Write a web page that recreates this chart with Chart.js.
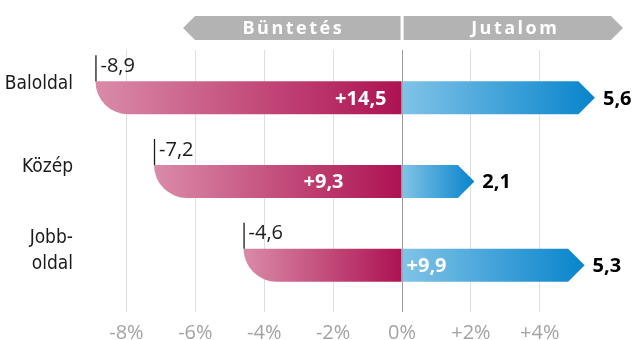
<!DOCTYPE html>
<html lang="hu">
<head>
<meta charset="utf-8">
<title>Büntetés és jutalom</title>
<script src="https://cdn.jsdelivr.net/npm/chart.js@4.4.1/dist/chart.umd.min.js"></script>
<style>
  html, body { margin: 0; padding: 0; background: #fff; }
  #wrap { width: 643px; height: 340px; position: relative; }
</style>
</head>
<body>
<div id="wrap"><canvas id="chart"></canvas></div>
<script>
// Categories and values (%)
const categories = ['Baloldal', 'Közép', ['Jobb-', 'oldal']];
const penalty = [-8.9, -7.2, -4.6];   // Büntetés
const reward = [5.6, 2.1, 5.3];       // Jutalom
const bannerLabels = ['Büntetés', 'Jutalom'];
const axisMin = -9;
const axisMax = 5.95;
const tickStep = 2;

const LABEL_FONT = "'DejaVu Sans Condensed', 'Liberation Sans Narrow', sans-serif";
const VALUE_FONT = "'Open Sans', sans-serif";

const fmt = v => v.toFixed(1).replace('.', ',');

// where the white difference label sits, relative to the zero line
const diffPlacement = [
    { align: 'right', dx: -16 },
    { align: 'right', dx: -59 },
    { align: 'left', dx: 4 }
];

const gridColor = (ctx) => (ctx.tick && ctx.tick.value === 0) ? '#9c9c9c' : '#dedede';

/**
 * Draws the header banners and the custom bar shapes
 */
const shapesPlugin = {
    id: 'shapes',
    afterDraw(chart) {
        const ctx = chart.ctx;
        const xScale = chart.scales.x;
        const x0 = xScale.getPixelForValue(0);

        // grey arrow banners above the plot
        const bTop = 16, bBot = 40, bMid = (bTop + bBot) / 2, tip = 12;
        ctx.save();
        ctx.fillStyle = '#b3b3b3';
        ctx.beginPath();
        ctx.moveTo(x0 - 1.5, bTop);
        ctx.lineTo(x0 - 207, bTop);
        ctx.lineTo(x0 - 219, bMid);
        ctx.lineTo(x0 - 207, bBot);
        ctx.lineTo(x0 - 1.5, bBot);
        ctx.closePath();
        ctx.fill();
        ctx.beginPath();
        ctx.moveTo(x0 + 1.5, bTop);
        ctx.lineTo(x0 + 209, bTop);
        ctx.lineTo(x0 + 209 + tip, bMid);
        ctx.lineTo(x0 + 209, bBot);
        ctx.lineTo(x0 + 1.5, bBot);
        ctx.closePath();
        ctx.fill();
        ctx.fillStyle = '#fff';
        ctx.font = `bold 18px ${VALUE_FONT}`;
        ctx.textAlign = 'center';
        ctx.textBaseline = 'middle';
        ctx.letterSpacing = '2.5px';
        ctx.fillText(bannerLabels[0], x0 - 110 + 1.25, bMid + 1);
        ctx.fillText(bannerLabels[1], x0 + 112 + 1.25, bMid + 1);
        ctx.letterSpacing = '0px';
        ctx.restore();

        const pinkMeta = chart.getDatasetMeta(0);
        const blueMeta = chart.getDatasetMeta(1);

        ctx.save();
        pinkMeta.data.forEach((bar, i) => {
            const { x, y, base, height } = bar.getProps(['x', 'y', 'base', 'height'], true);
            const top = y - height / 2, bottom = y + height / 2;
            const r = Math.min(height, base - x);

            // Büntetés: rounded lower-left corner
            const g = ctx.createLinearGradient(x, 0, base, 0);
            g.addColorStop(0, '#da8ba9');
            g.addColorStop(1, '#ad1251');
            ctx.fillStyle = g;
            ctx.beginPath();
            ctx.moveTo(x, top);
            ctx.lineTo(base, top);
            ctx.lineTo(base, bottom);
            ctx.lineTo(x + r, bottom);
            ctx.arc(x + r, top, r, Math.PI / 2, Math.PI);
            ctx.closePath();
            ctx.fill();

            // marker line and value above the bar start
            ctx.strokeStyle = '#1a1a1a';
            ctx.lineWidth = 1.3;
            ctx.beginPath();
            ctx.moveTo(x + 0.5, top - 26);
            ctx.lineTo(x + 0.5, top);
            ctx.stroke();
            ctx.fillStyle = '#1a1a1a';
            ctx.font = `20px ${VALUE_FONT}`;
            ctx.textAlign = 'left';
            ctx.textBaseline = 'middle';
            ctx.fillText(fmt(penalty[i]), x + 5, top - 15);
        });

        blueMeta.data.forEach((bar, i) => {
            const { x, y, base, height } = bar.getProps(['x', 'y', 'base', 'height'], true);
            const top = y - height / 2, bottom = y + height / 2;
            const head = height / 2;

            // Jutalom: arrow pointing right
            const g = ctx.createLinearGradient(base, 0, x, 0);
            g.addColorStop(0, '#80c3e7');
            g.addColorStop(1, '#0884cc');
            ctx.fillStyle = g;
            ctx.beginPath();
            ctx.moveTo(base, top);
            ctx.lineTo(x - head, top);
            ctx.lineTo(x, y);
            ctx.lineTo(x - head, bottom);
            ctx.lineTo(base, bottom);
            ctx.closePath();
            ctx.fill();

            ctx.fillStyle = '#000';
            ctx.font = `bold 20px ${VALUE_FONT}`;
            ctx.textAlign = 'left';
            ctx.textBaseline = 'middle';
            ctx.fillText(fmt(reward[i]), x + 8, y + 1);

            // difference between reward and penalty
            const diff = reward[i] - penalty[i];
            const p = diffPlacement[i];
            ctx.fillStyle = '#fff';
            ctx.textAlign = p.align;
            ctx.fillText('+' + fmt(diff), base + p.dx, y + 1);
        });
        ctx.restore();
    }
};

const chart = new Chart(document.getElementById('chart'), {
    type: 'bar',
    data: {
        labels: categories,
        datasets: [{
            label: bannerLabels[0],
            data: penalty,
            backgroundColor: 'rgba(0,0,0,0)',
            barThickness: 33,
            grouped: false
        }, {
            label: bannerLabels[1],
            data: reward,
            backgroundColor: 'rgba(0,0,0,0)',
            barThickness: 33,
            grouped: false
        }]
    },
    options: {
        indexAxis: 'y',
        responsive: true,
        maintainAspectRatio: false,
        animation: false,
        layout: { padding: { top: 50, right: 36, bottom: 0, left: 0 } },
        plugins: {
            legend: { display: false },
            tooltip: { enabled: false }
        },
        scales: {
            x: {
                type: 'linear',
                position: 'bottom',
                min: axisMin,
                max: axisMax,
                border: { display: false },
                grid: { color: gridColor, lineWidth: 1, tickLength: 5 },
                ticks: {
                    stepSize: tickStep,
                    includeBounds: false,
                    maxRotation: 0,
                    padding: 9,
                    color: '#a3a3a3',
                    font: { family: VALUE_FONT, size: 20, lineHeight: 1.2 },
                    callback: v => (v > 0 ? '+' : '') + v + '%'
                },
                afterFit: (scale) => { scale.height = 33; }
            },
            x2: {
                type: 'linear',
                position: 'top',
                min: axisMin,
                max: axisMax,
                border: { display: false },
                grid: { color: gridColor, drawOnChartArea: false, tickLength: 6 },
                ticks: { display: false, stepSize: tickStep, includeBounds: false }
            },
            y: {
                type: 'category',
                border: { display: false },
                grid: { display: false, drawTicks: false },
                ticks: {
                    padding: 19,
                    labelOffset: -14,
                    color: '#1a1a1a',
                    font: { family: LABEL_FONT, size: 19, lineHeight: 1.4 }
                },
                afterFit: (scale) => { scale.width = 92; }
            }
        }
    },
    plugins: [shapesPlugin]
});
</script>
</body>
</html>
